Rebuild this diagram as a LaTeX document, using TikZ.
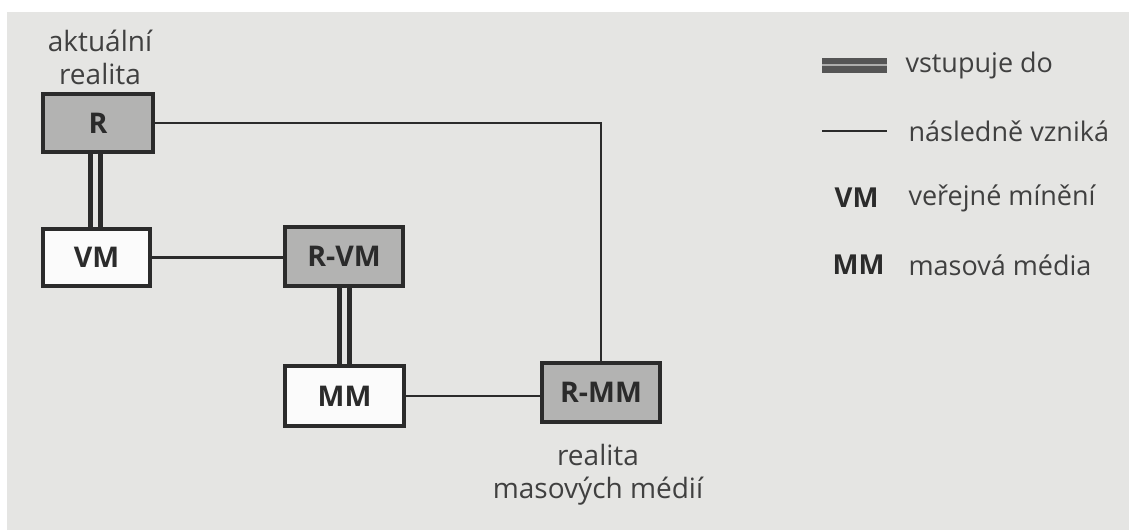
\documentclass[tikz,border=0pt]{standalone}
\usepackage{fontspec}
\setmainfont{Open Sans}
\usetikzlibrary{calc}
\definecolor{paper}{HTML}{E5E5E3}
\definecolor{ink}{HTML}{2B2B2B}
\definecolor{boxgray}{HTML}{B3B3B2}
\begin{document}
\begin{tikzpicture}[x=1pt,y=-1pt,
  box/.style={draw=ink,line width=3.2pt,minimum width=#1,inner sep=0pt,
    font=\fontsize{28.5}{28.5}\selectfont\bfseries,text=ink},
  box/.default=110pt,
  realbox/.style={box=#1,fill=boxgray},
  realbox/.default=110pt,
  opbox/.style={box=#1,fill=white!85!paper},
  opbox/.default=110pt,
  link/.style={draw=ink,line width=2.8pt},
  enters/.style={draw=ink,line width=5pt,double=paper,double distance=5pt},
  caption/.style={font=\fontsize{28}{33}\selectfont,text=ink!90,align=center},
  legtext/.style={font=\fontsize{27}{27}\selectfont,text=ink!90,anchor=west},
  legkey/.style={font=\fontsize{27.5}{27.5}\selectfont\bfseries,text=ink,anchor=east}]
  % paper
  \fill[white] (0,0) rectangle (1129,530);
  \fill[paper] (7,12) rectangle (1129,530);
  \useasboundingbox (0,0) rectangle (1129,530);

  % boxes
  \node[realbox=110pt,minimum height=58pt] (R)   at (98,123)   {R};
  \node[opbox=107pt,minimum height=57pt]   (VM)  at (96.5,257.5) {VM};
  \node[realbox=118pt,minimum height=59pt] (RVM) at (344,256.5) {R-VM};
  \node[opbox=119pt,minimum height=60pt]   (MM)  at (344.5,396) {MM};
  \node[realbox=118pt,minimum height=59pt] (RMM) at (601,392.5) {R-MM};

  % captions
  \node[caption] (capR)   at (100,57)  {aktuální\\realita};
  \node[caption] (capRMM) at (598,475) {realita\\masových médií};

  % "enters into" links
  \draw[enters] ([xshift=-3pt]R.south) -- ([xshift=-3pt]R.south |- VM.north);
  \draw[enters] ([xshift=0pt]RVM.south) -- ([xshift=0pt]RVM.south |- MM.north);

  % "subsequently arises" links
  \coordinate (corner) at (RMM.north |- R.east);
  \draw[link] (R.east) -- (corner) -- (RMM.north);
  \draw[link] (VM.east) -- (VM.east -| RVM.west);
  \draw[link] (MM.east) -- (MM.east -| RMM.west);

  % legend
  \coordinate (l1) at (822,65);
  \coordinate (l1e) at (887,65);
  \draw[draw=ink!80,line width=6.5pt,double=paper!70!ink,double distance=2pt] (l1) -- (l1e);
  \node[legtext] (t1) at (902,65) {vstupuje do};
  \coordinate (l2) at (822,131);
  \coordinate (l2e) at (887,131);
  \draw[link] (l2) -- (l2e);
  \node[legtext] (t2) at (905,131) {následně vzniká};
  \node[legkey] (k3) at (882,198) {VM};
  \node[legtext] (t3) at (905,198) {veřejné mínění};
  \node[legkey] (k4) at (888,265) {MM};
  \node[legtext] (t4) at (905,265) {masová média};
\end{tikzpicture}
\end{document}
